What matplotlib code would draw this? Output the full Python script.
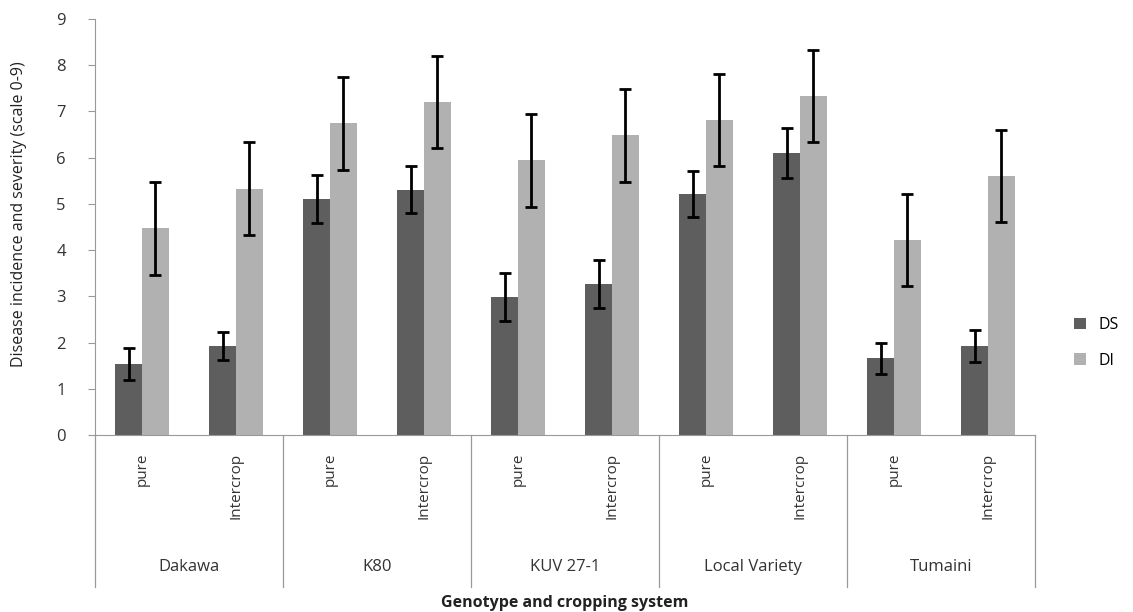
import numpy as np
import matplotlib
matplotlib.use("Agg")
import matplotlib.pyplot as plt
from matplotlib.transforms import blended_transform_factory

genotypes = ["Dakawa", "K80", "KUV 27-1", "Local Variety", "Tumaini"]
systems = ["pure", "Intercrop"]
ds_values = [1.53, 1.92, 5.10, 5.31, 2.98, 3.26, 5.22, 6.10, 1.66, 1.92]
ds_errors = [0.35, 0.30, 0.52, 0.50, 0.52, 0.52, 0.50, 0.55, 0.33, 0.35]
di_values = [4.47, 5.33, 6.74, 7.20, 5.94, 6.48, 6.82, 7.34, 4.22, 5.60]
di_errors = [1.00, 1.00, 1.00, 1.00, 1.00, 1.00, 1.00, 1.00, 1.00, 1.00]
yticks = list(range(0, 10))

W, H = 1133, 612
fig = plt.figure(figsize=(W / 100, H / 100), dpi=100)
ax = fig.add_axes([95 / W, (H - 435) / H, (1035 - 95) / W, (435 - 19) / H])

x = np.arange(len(ds_values))
bw = 0.287
ds_col = "#5e5e5e"
di_col = "#b1b1b1"
ekw = dict(ecolor="black", elinewidth=2, capsize=4, capthick=2)
ax.bar(x - bw / 2, ds_values, bw, color=ds_col, label="DS",
       yerr=ds_errors, error_kw=ekw)
ax.bar(x + bw / 2, di_values, bw, color=di_col, label="DI",
       yerr=di_errors, error_kw=ekw)

ax.set_xlim(-0.5, len(x) - 0.5)
ax.set_ylim(0, 9)
ax.set_yticks(yticks)
ax.set_yticklabels([str(t) for t in yticks], fontsize=12, color="#333333",
                   family=["Open Sans", "DejaVu Sans"])
ax.tick_params(axis="y", length=5, color="#999999", pad=16)
ax.set_xticks([])
for s in ["top", "right"]:
    ax.spines[s].set_visible(False)
for s in ["left", "bottom"]:
    ax.spines[s].set_color("#999999")

tr = blended_transform_factory(ax.transData, ax.transAxes)
# group separators
for b in np.arange(-0.5, len(x), 2):
    ax.plot([b, b], [0, -0.365], transform=tr, color="#999999", lw=0.9,
            clip_on=False)

for i, xi in enumerate(x):
    ax.text(xi, -0.043, systems[i % 2], transform=tr, rotation=90,
            ha="center", va="top", fontsize=11, color="#333333",
            family=["Open Sans", "DejaVu Sans"])
for g, name in enumerate(genotypes):
    ax.text(2 * g + 0.5, -0.317, name, transform=tr, ha="center",
            va="center", fontsize=12, color="#333333",
            family=["Open Sans", "DejaVu Sans"])

ax.text(0.5, -0.404, "Genotype and cropping system", transform=ax.transAxes,
        ha="center", va="center", fontsize=11.5, fontweight="bold",
        color="#222222", family=["Open Sans", "DejaVu Sans"])

ax.set_ylabel("Disease incidence and severity (scale 0-9)", fontsize=11.5,
              color="#222222", family=["Open Sans", "DejaVu Sans"])
ax.yaxis.set_label_coords(-0.072, 0.53)

fig.legend(loc="center left", bbox_to_anchor=(1060 / W, (H - 343) / H),
           frameon=False, handlelength=0.7, handleheight=0.7,
           labelspacing=1.2, prop={"family": ["Open Sans", "DejaVu Sans"],
                                   "size": 11.5})

fig.savefig("out.png", dpi=100)
